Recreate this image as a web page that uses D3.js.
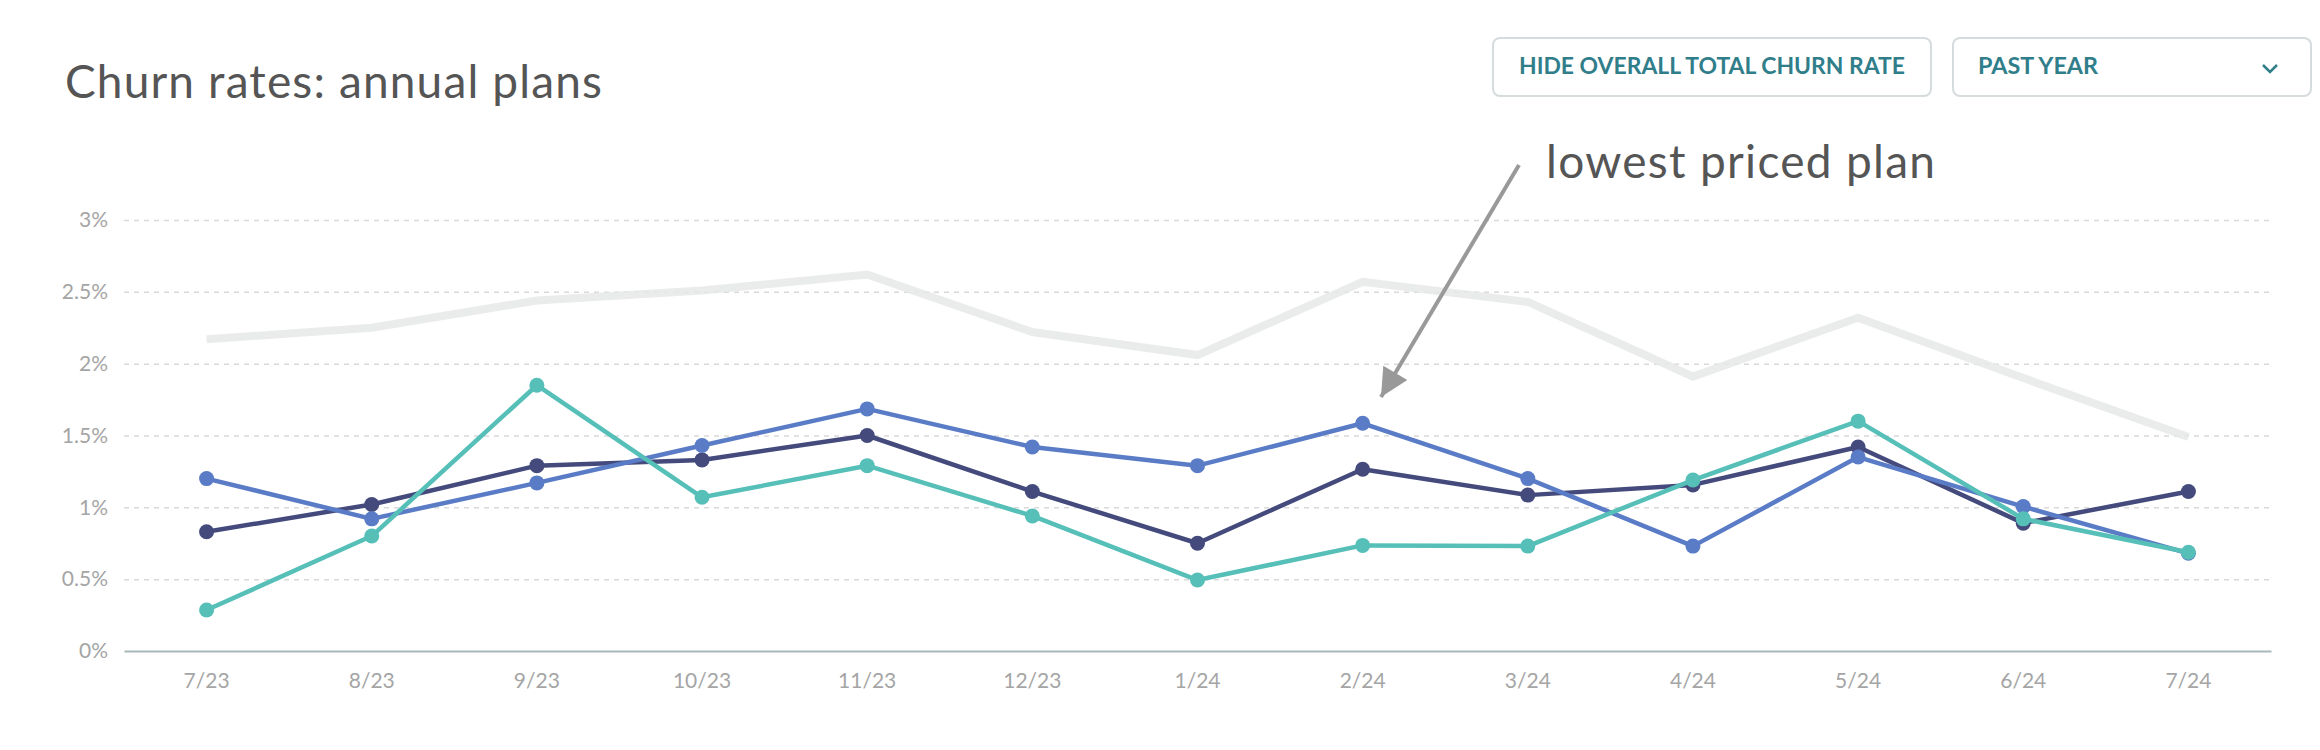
<!DOCTYPE html>
<html>
<head>
<meta charset="utf-8">
<script src="https://cdnjs.cloudflare.com/ajax/libs/d3/7.8.5/d3.min.js"></script>
<style>
    body { margin: 0; background: #fff; }
    text { font-family: Lato, "Open Sans", sans-serif; }
</style>
</head>
<body>
<div id="chart"></div>
<script>
// months on the x axis
var months = ["7/23", "8/23", "9/23", "10/23", "11/23", "12/23", "1/24", "2/24", "3/24", "4/24", "5/24", "6/24", "7/24"]

// churn rates in percent
var overallTotal = [2.17, 2.25, 2.44, 2.51, 2.62, 2.22, 2.06, 2.57, 2.43, 1.91, 2.32, 1.90, 1.49]
var planNavy = [0.83, 1.02, 1.29, 1.33, 1.50, 1.11, 0.75, 1.265, 1.085, 1.156, 1.42, 0.89, 1.11]
var lowestPricedPlan = [1.20, 0.92, 1.17, 1.43, 1.685, 1.42, 1.29, 1.585, 1.20, 0.73, 1.35, 1.005, 0.68]
var planTeal = [0.285, 0.80, 1.85, 1.07, 1.29, 0.94, 0.494, 0.735, 0.73, 1.19, 1.60, 0.92, 0.687]

var yTicks = [0, 0.5, 1, 1.5, 2, 2.5, 3]

var width = 2320, height = 750
var plot = {left: 124, right: 2271, top: 220, bottom: 651}

var svg = d3.select("#chart").append("svg")
    .attr("width", width).attr("height", height)

var x = d3.scaleBand().domain(months).range([plot.left, plot.right])
var y = d3.scaleLinear().domain([0, 3]).range([plot.bottom, plot.top])

function cx(d, i) { return x(months[i]) + x.bandwidth()/2 }

// title
svg.append("text")
    .attr("x", 65).attr("y", 98)
    .attr("font-size", 46)
    .attr("textLength", 537)
    .attr("lengthAdjust", "spacing")
    .attr("fill", "#555")
    .text("Churn rates: annual plans")

// buttons up right
function button(x0, x1, label, centered, len) {
    var g = svg.append("g")
    g.append("rect")
        .attr("x", x0).attr("y", 38)
        .attr("width", x1 - x0).attr("height", 58)
        .attr("rx", 7)
        .attr("fill", "#fff")
        .attr("stroke", "#d6dcdd")
        .attr("stroke-width", 2)
    g.append("text")
        .attr("x", centered ? (x0 + x1)/2 : x0 + 25)
        .attr("y", 74)
        .attr("text-anchor", centered ? "middle" : "start")
        .attr("font-family", "'Open Sans', sans-serif")
        .attr("font-weight", 700)
        .attr("font-size", 22.5)
        .attr("textLength", len)
        .attr("lengthAdjust", "spacingAndGlyphs")
        .attr("fill", "#317e8b")
        .text(label)
    return g
}
button(1493, 1931, "HIDE OVERALL TOTAL CHURN RATE", true, 386)
var pastYear = button(1953, 2311, "PAST YEAR", false, 120)
pastYear.append("path")
    .attr("d", "M2263,65 L2270,72 L2277,65")
    .attr("fill", "none")
    .attr("stroke", "#317e8b")
    .attr("stroke-width", 2.5)

// y axis with dashed grid
var yAxis = svg.append("g")
    .attr("transform", "translate(" + plot.left + ",0)")
    .call(d3.axisLeft(y).tickValues(yTicks)
        .tickSize(-(plot.right - plot.left))
        .tickPadding(16)
        .tickFormat(function(d) { return d + "%" }))
yAxis.select(".domain").remove()
yAxis.selectAll(".tick line")
    .attr("stroke", "#d9d9d9")
    .attr("stroke-width", 1.5)
    .attr("stroke-dasharray", "5,5")
    .filter(function(d) { return d == 0 }).remove()
yAxis.selectAll(".tick text")
    .attr("font-family", "Lato, sans-serif")
    .attr("font-size", 21)
    .attr("fill", "#a5a5a5")

// x axis
var xAxis = svg.append("g")
    .attr("transform", "translate(0," + plot.bottom + ")")
    .call(d3.axisBottom(x).tickSize(0).tickPadding(22).tickSizeOuter(0))
xAxis.select(".domain")
    .attr("stroke", "#a7b8b8")
    .attr("stroke-width", 2)
xAxis.selectAll(".tick text")
    .attr("font-family", "Lato, sans-serif")
    .attr("font-size", 21)
    .attr("fill", "#a5a5a5")

var line = d3.line()
    .x(function(d, i) { return cx(d, i) })
    .y(function(d) { return y(d) })

// overall total, thick light grey, no dots
svg.append("path")
    .datum(overallTotal)
    .attr("d", line)
    .attr("fill", "none")
    .attr("stroke", "#e6e7e8")
    .attr("stroke-opacity", 0.85)
    .attr("stroke-width", 8)

var series = [
    {values: planNavy, color: "#444b7c"},
    {values: lowestPricedPlan, color: "#5a7cc6"},
    {values: planTeal, color: "#55bfb8"}
]

series.forEach(function(s) {
    var g = svg.append("g")
    g.append("path")
        .datum(s.values)
        .attr("d", line)
        .attr("fill", "none")
        .attr("stroke", s.color)
        .attr("stroke-width", 4.5)
        .attr("stroke-linejoin", "round")
    g.selectAll("circle")
        .data(s.values)
        .enter().append("circle")
        .attr("cx", cx)
        .attr("cy", function(d) { return y(d) })
        .attr("r", 7.5)
        .attr("fill", s.color)
})

// annotation with arrow
var defs = svg.append("defs")
defs.append("marker")
    .attr("id", "arrowhead")
    .attr("viewBox", "0 0 10 10")
    .attr("refX", 10).attr("refY", 5)
    .attr("markerWidth", 8).attr("markerHeight", 7)
    .attr("markerUnits", "strokeWidth")
    .attr("orient", "auto")
    .append("path")
    .attr("d", "M0,0 L10,5 L0,10 Z")
    .attr("fill", "#999")

svg.append("line")
    .attr("x1", 1519).attr("y1", 165)
    .attr("x2", 1381).attr("y2", 397)
    .attr("stroke", "#999")
    .attr("stroke-width", 4)
    .attr("marker-end", "url(#arrowhead)")

svg.append("text")
    .attr("x", 1546).attr("y", 178)
    .attr("font-size", 46)
    .attr("textLength", 389)
    .attr("lengthAdjust", "spacing")
    .attr("fill", "#555")
    .text("lowest priced plan")
</script>
</body>
</html>
